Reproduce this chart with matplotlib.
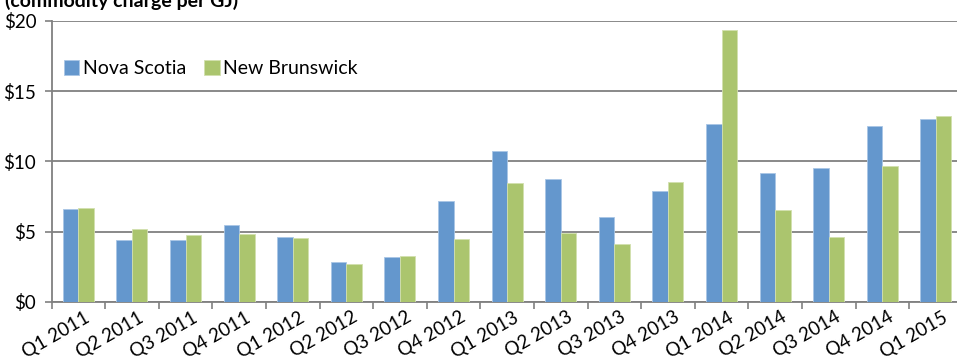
import matplotlib
matplotlib.use("Agg")
import matplotlib.pyplot as plt
import numpy as np

categories = ["Q1 2011", "Q2 2011", "Q3 2011", "Q4 2011", "Q1 2012", "Q2 2012",
              "Q3 2012", "Q4 2012", "Q1 2013", "Q2 2013", "Q3 2013", "Q4 2013",
              "Q1 2014", "Q2 2014", "Q3 2014", "Q4 2014", "Q1 2015"]
nova_scotia = [6.6, 4.4, 4.4, 5.45, 4.63, 2.85, 3.2, 7.15, 10.72, 8.77, 6.0, 7.9,
               12.67, 9.2, 9.5, 12.52, 13.0]
new_brunswick = [6.68, 5.16, 4.73, 4.82, 4.56, 2.7, 3.27, 4.5, 8.46, 4.87, 4.1, 8.55,
                 19.34, 6.5, 4.64, 9.67, 13.24]
yticks = [0, 5, 10, 15, 20]
ytick_labels = ["$0", "$5", "$10", "$15", "$20"]

plt.rcParams['font.family'] = ['Lato', 'DejaVu Sans']

W, H = 957, 362
fig = plt.figure(figsize=(W / 100, H / 100), dpi=100)
left = 51.5 / W
bottom = 1 - 301.7 / H
top = 1 - 21 / H
width = 17 * 53.6 / W
ax = fig.add_axes([left, bottom, width, top - bottom])

blue = "#6497CD"
green = "#ABC56E"
x = np.arange(len(categories))
bw = 0.29
ax.bar(x - bw / 2, nova_scotia, bw, color=blue, edgecolor="#A9C6E6", linewidth=0.6,
       label="Nova Scotia", zorder=3)
ax.bar(x + bw / 2, new_brunswick, bw, color=green, edgecolor="#D2E0AE", linewidth=0.6,
       label="New Brunswick", zorder=3)

ax.set_xlim(-0.5, len(categories) - 0.5)
ax.set_ylim(0, 20)
ax.set_yticks(yticks)
ax.set_yticklabels(ytick_labels, fontsize=13.5)
ax.yaxis.grid(True, color="#808080", linewidth=1.3, zorder=0)
ax.set_axisbelow(True)

for s in ["top", "right"]:
    ax.spines[s].set_visible(False)
for s in ["left", "bottom"]:
    ax.spines[s].set_color("#808080")
    ax.spines[s].set_linewidth(1.3)
ax.tick_params(axis="y", length=5, width=1.2, color="#808080", pad=6)

ax.set_xticks(x)
ax.set_xticks(np.arange(-0.5, len(categories), 1.0), minor=True)
ax.tick_params(axis="x", which="major", length=0, pad=5)
ax.tick_params(axis="x", which="minor", length=5, width=1.2, color="#808080")
ax.set_xticklabels(categories, rotation=30, ha="right", va="top",
                   rotation_mode="anchor", fontsize=13.5)
for lbl in ax.get_xticklabels():
    lbl.set_transform(lbl.get_transform() + matplotlib.transforms.ScaledTranslation(6 / 100, 0, fig.dpi_scale_trans))

leg = ax.legend(loc="upper left", bbox_to_anchor=(0.005, 0.89), ncol=2, frameon=False,
                fontsize=14, handlelength=0.8, handleheight=0.8, handletextpad=0.2,
                columnspacing=0.9, borderaxespad=0)

fig.text(5 / W, 1 - 6.5 / H, "(commodity charge per GJ)", fontsize=14, fontweight="bold",
         ha="left", va="baseline")

fig.savefig("out.png", dpi=100)
